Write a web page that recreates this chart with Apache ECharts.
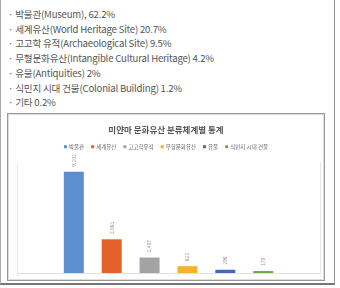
<!DOCTYPE html>
<html>
<head>
<meta charset="utf-8">
<script src="https://cdn.jsdelivr.net/npm/echarts@6/dist/echarts.min.js"></script>
<style>
  html, body { margin: 0; padding: 0; background: #fff; }
  #frame {
    position: absolute; left: 0; top: -2px; width: 333px; height: 285px;
    border-left: 1px solid #aaa; border-right: 1px solid #999; border-bottom: 2px solid #777;
  }
  #list {
    position: absolute; left: 8px; top: 7px; margin: 0; padding: 0; list-style: none;
    font-family: "Noto Sans CJK KR", sans-serif; font-size: 9.6px; color: #555;
    line-height: 14.7px; letter-spacing: -0.2px;
  }
  #box {
    position: absolute; left: 7px; top: 113px; width: 316px; height: 166px;
    border: 1px solid #999; box-shadow: inset 0 0 0 1px #ddd;
  }
  #cenTer { position: absolute; left: 0; top: 0; width: 316px; height: 166px; }
</style>
</head>
<body>
<div id="frame"></div>
<ul id="list"></ul>
<div id="box"><div id="cenTer"></div></div>
<script>
const listLines = [
  '박물관(Museum), 62.2%',
  '세계유산(World Heritage Site) 20.7%',
  '고고학 유적(Archaeological Site) 9.5%',
  '무형문화유산(Intangible Cultural Heritage) 4.2%',
  '유물(Antiquities) 2%',
  '식민지 시대 건물(Colonial Building) 1.2%',
  '기타 0.2%'
]
const categories = ['', '박물관', '세계유산', '고고학유적', '무형문화유산', '유물', '식민지 시대 건물', '기타']
const seriesNames = ['박물관', '세계유산', '고고학유적', '무형문화유산', '유물', '식민지 시대 건물']
const values = [9202, 3063, 1407, 621, 296, 178]
const colors = ['#5b8fd0', '#e3622c', '#a3a3a3', '#f5b326', '#4269c2', '#6cad47']

document.getElementById('list').innerHTML = listLines.map(t => '<li>· ' + t + '</li>').join('')

const myChart = echarts.init(document.getElementById('cenTer'))
const font = '"Noto Sans CJK KR", sans-serif'

const series = seriesNames.map((name, i) => {
  const data = categories.map(() => null)
  data[i + 1] = values[i]
  return {
    name: name,
    type: 'bar',
    stack: 'total',
    barWidth: 20,
    itemStyle: { color: colors[i] },
    label: {
      show: true,
      position: 'top',
      rotate: 90,
      align: 'left',
      verticalAlign: 'middle',
      distance: 5,
      fontSize: 5,
      color: '#999',
      fontFamily: font,
      formatter: p => p.value.toLocaleString('en-US')
    },
    data: data
  }
})

myChart.setOption({
  animation: false,
  title: {
    text: '미얀마 문화유산 분류체계별 통계',
    left: 'center',
    top: 7,
    textStyle: { fontSize: 8.5, fontWeight: 'bold', color: '#555', fontFamily: font }
  },
  legend: {
    top: 25,
    left: 'center',
    itemWidth: 3,
    itemHeight: 3,
    itemGap: 7,
    icon: 'rect',
    textStyle: { fontSize: 5.5, color: '#666', fontFamily: font, padding: [0, 0, 0, -3] },
    data: seriesNames
  },
  grid: { left: 9, right: 4, top: 49, bottom: 7 },
  xAxis: {
    type: 'category',
    data: categories,
    axisLine: { lineStyle: { color: '#e2e2e2' } },
    axisTick: { show: true, length: 4, lineStyle: { color: '#eee' } },
    axisLabel: { show: false }
  },
  yAxis: [
    {
      type: 'value', min: 0, max: 10000,
      axisLine: { show: true, lineStyle: { color: '#e6e6e6' } },
      axisLabel: { show: false }, axisTick: { show: false }, splitLine: { show: false }
    },
    {
      type: 'value', min: 0, max: 10000, position: 'right',
      axisLine: { show: true, lineStyle: { color: '#e6e6e6' } },
      axisLabel: { show: false }, axisTick: { show: false }, splitLine: { show: false }
    }
  ],
  series: series
})
</script>
</body>
</html>
